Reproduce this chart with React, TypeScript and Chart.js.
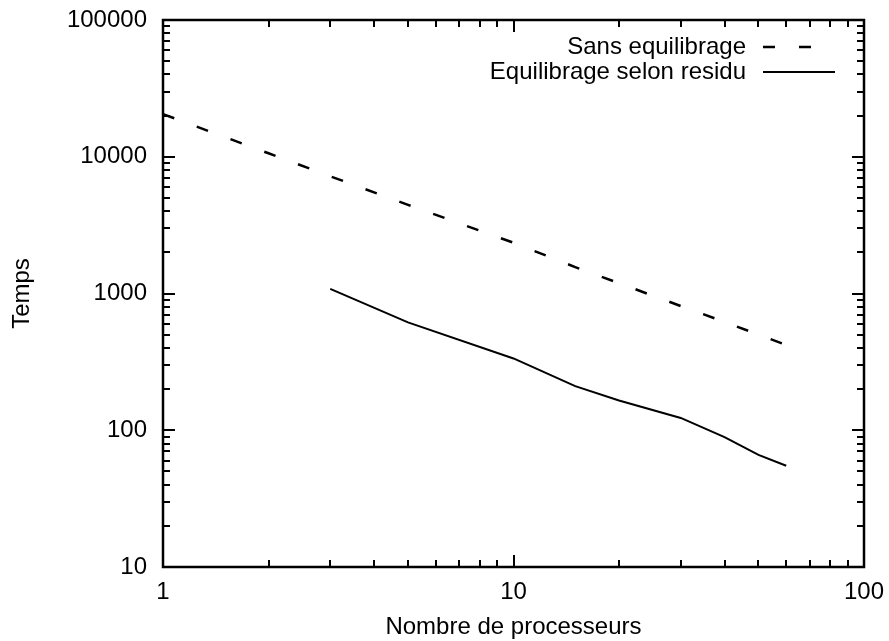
import React, { useEffect, useRef } from "react";
import { Chart, registerables } from "chart.js";

Chart.register(...registerables);

// Data
const sansX = [1, 2, 3, 5, 10, 15, 20, 30, 40, 50, 60];
const sansY = [20500, 10600, 7200, 4450, 2350, 1560, 1190, 810, 620, 500, 420];
const residuX = [3, 5, 10, 15, 20, 30, 40, 50, 60];
const residuY = [1080, 615, 335, 210, 165, 123, 89, 66, 55];
const seriesLabels = ["Sans equilibrage", "Equilibrage selon residu"];
const xTickValues = [1, 10, 100];
const yTickValues = [10, 100, 1000, 10000, 100000];
const xTitle = "Nombre de processeurs";
const yTitle = "Temps";

const FONT = "'Liberation Sans', Arial, Helvetica, sans-serif";
const FONT_SIZE = 24;

function minorValues(min: number, max: number): number[] {
  const out: number[] = [];
  for (let d = min; d < max; d *= 10) {
    for (let k = 2; k <= 9; k++) out.push(d * k);
  }
  return out;
}

const framePlugin = {
  id: "gnuFrame",
  afterDatasetsDraw(chart: any) {
    const { ctx, chartArea } = chart;
    const { left, right, top, bottom } = chartArea;
    const xs = chart.scales.x;
    const ys = chart.scales.y;
    ctx.save();
    ctx.strokeStyle = "#000";
    ctx.lineCap = "butt";
    const MAJ = 12;
    const MIN = 7;
    ctx.lineWidth = 2;
    ctx.beginPath();
    const drawX = (v: number, len: number) => {
      const px = Math.round(xs.getPixelForValue(v));
      ctx.moveTo(px, bottom);
      ctx.lineTo(px, bottom - len);
      ctx.moveTo(px, top);
      ctx.lineTo(px, top + len);
    };
    const drawY = (v: number, len: number) => {
      const py = Math.round(ys.getPixelForValue(v));
      ctx.moveTo(left, py);
      ctx.lineTo(left + len, py);
      ctx.moveTo(right, py);
      ctx.lineTo(right - len, py);
    };
    xTickValues.forEach((v) => drawX(v, MAJ));
    minorValues(xTickValues[0], xTickValues[xTickValues.length - 1]).forEach((v) => drawX(v, MIN));
    yTickValues.forEach((v) => drawY(v, MAJ));
    minorValues(yTickValues[0], yTickValues[yTickValues.length - 1]).forEach((v) => drawY(v, MIN));
    ctx.stroke();

    // frame
    ctx.lineWidth = 2.5;
    ctx.strokeRect(left, top, right - left, bottom - top);

    // legend (text right-aligned, sample on the right)
    ctx.font = `${FONT_SIZE}px ${FONT}`;
    ctx.fillStyle = "#000";
    ctx.textAlign = "right";
    ctx.textBaseline = "middle";
    const textRight = 746;
    const sampleL = 763;
    const sampleR = 835;
    const rows = [47, 72];
    chart.data.datasets.forEach((ds: any, i: number) => {
      const yy = rows[i];
      ctx.fillText(ds.label, textRight, yy);
      ctx.beginPath();
      ctx.lineWidth = ds.borderWidth;
      ctx.setLineDash(ds.borderDash || []);
      ctx.moveTo(sampleL, yy);
      ctx.lineTo(sampleR, yy);
      ctx.stroke();
      ctx.setLineDash([]);
    });
    ctx.restore();
  },
};

export default function App() {
  const canvasRef = useRef<HTMLCanvasElement | null>(null);

  useEffect(() => {
    document.body.style.margin = "0";
    const canvas = canvasRef.current;
    if (!canvas) return;
    const chart = new Chart(canvas, {
      type: "line",
      data: {
        datasets: [
          {
            label: seriesLabels[0],
            data: sansX.map((x, i) => ({ x, y: sansY[i] })),
            borderColor: "#000",
            borderWidth: 2.5,
            borderDash: [12, 24],
            pointRadius: 0,
            tension: 0,
            fill: false,
          },
          {
            label: seriesLabels[1],
            data: residuX.map((x, i) => ({ x, y: residuY[i] })),
            borderColor: "#000",
            borderWidth: 2,
            pointRadius: 0,
            tension: 0,
            fill: false,
          },
        ],
      },
      options: {
        responsive: false,
        animation: false,
        events: [],
        layout: { padding: { top: 20, right: 25, left: 0, bottom: 0 } },
        plugins: {
          legend: { display: false },
          tooltip: { enabled: false },
        },
        scales: {
          x: {
            type: "logarithmic",
            min: 1,
            max: 100,
            border: { display: false },
            grid: { display: false, drawTicks: false },
            afterBuildTicks: (scale: any) => {
              scale.ticks = xTickValues.map((v) => ({ value: v }));
            },
            afterFit: (scale: any) => {
              scale.height = 74;
              scale.paddingLeft = 0;
              scale.paddingRight = 0;
            },
            ticks: {
              color: "#000",
              padding: 11,
              maxRotation: 0,
              autoSkip: false,
              font: { family: FONT, size: FONT_SIZE },
              callback: (v: any) => String(v),
            },
            title: {
              display: true,
              text: xTitle,
              color: "#000",
              padding: { top: 0, bottom: -1 },
              font: { family: FONT, size: FONT_SIZE },
            },
          },
          y: {
            type: "logarithmic",
            min: 10,
            max: 100000,
            border: { display: false },
            grid: { display: false, drawTicks: false },
            afterBuildTicks: (scale: any) => {
              scale.ticks = yTickValues.map((v) => ({ value: v }));
            },
            afterFit: (scale: any) => {
              scale.width = 163;
              scale.paddingTop = 0;
              scale.paddingBottom = 0;
            },
            ticks: {
              color: "#000",
              padding: 16,
              autoSkip: false,
              font: { family: FONT, size: FONT_SIZE },
              callback: (v: any) => String(v),
            },
            title: {
              display: true,
              text: yTitle,
              color: "#000",
              padding: { top: 8, bottom: 0 },
              font: { family: FONT, size: FONT_SIZE },
            },
          },
        },
      },
      plugins: [framePlugin],
    } as any);
    return () => chart.destroy();
  }, []);

  return (
    <div style={{ width: 889, height: 641, background: "#fff" }}>
      <canvas ref={canvasRef} width={889} height={641} style={{ display: "block" }} />
    </div>
  );
}
